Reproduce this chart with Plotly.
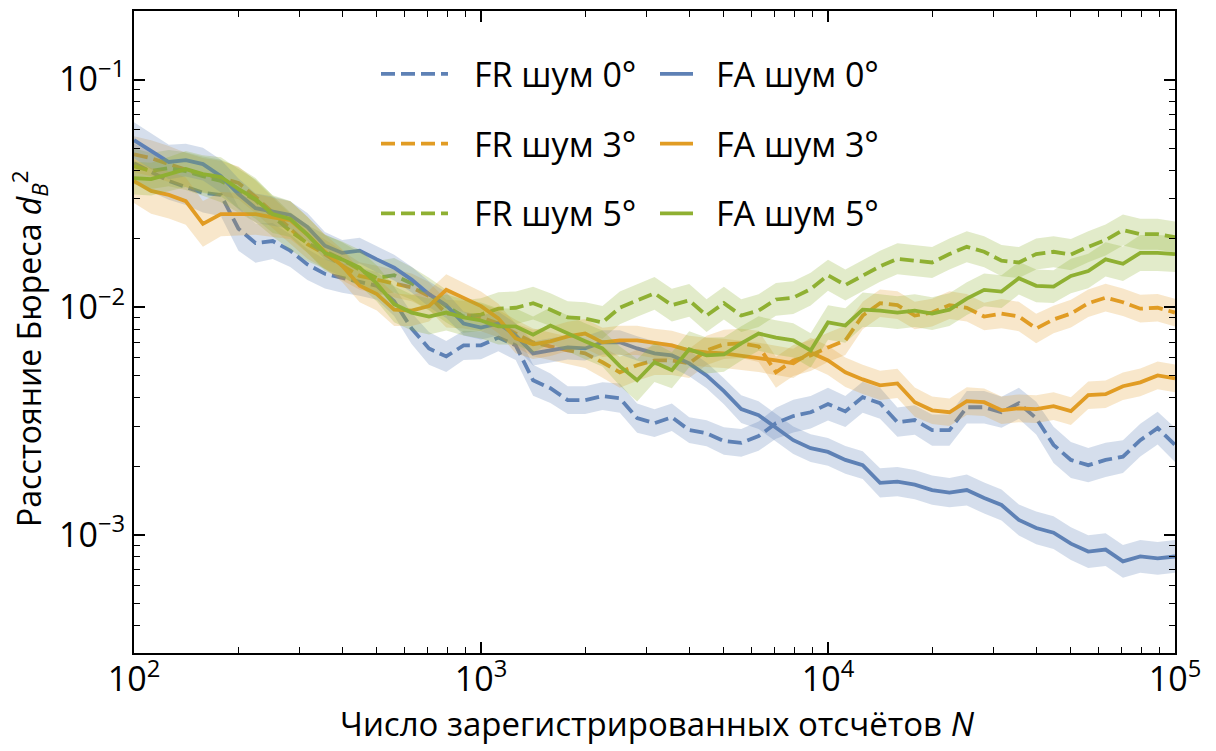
import plotly.graph_objects as go

# ---------------- data ----------------
N = [100, 112, 126, 141, 158, 178, 200, 224, 251, 282,
     316, 355, 398, 447, 501, 562, 631, 708, 794, 891,
     1000, 1122, 1259, 1413, 1585, 1778, 1995, 2239, 2512, 2818,
     3162, 3548, 3981, 4467, 5012, 5623, 6310, 7079, 7943, 8913,
     10000, 11220, 12589, 14125, 15849, 17783, 19953, 22387, 25119, 28184,
     31623, 35481, 39811, 44668, 50119, 56234, 63096, 70795, 79433, 89125,
     100000]

fr0 = [0.0429, 0.0392, 0.0358, 0.0337, 0.0318, 0.0311, 0.0221, 0.0191, 0.0195, 0.0177,
       0.0154, 0.0140, 0.0134, 0.0129, 0.0124, 0.0106, 0.00805, 0.00658, 0.00607, 0.00679,
       0.00679, 0.00735, 0.00679, 0.00477, 0.00440, 0.00390, 0.00390, 0.00406, 0.00398, 0.00325,
       0.00309, 0.00328, 0.00288, 0.00279, 0.00258, 0.00253, 0.00271, 0.00309, 0.00332, 0.00345,
       0.00375, 0.00348, 0.00402, 0.00378, 0.00312, 0.00319, 0.00288, 0.00288, 0.00363, 0.00363,
       0.00345, 0.00378, 0.00325, 0.00248, 0.00213, 0.00202, 0.00213, 0.00220, 0.00260, 0.00294,
       0.00248]

fa0 = [0.0541, 0.0484, 0.0434, 0.0442, 0.0425, 0.0376, 0.0314, 0.0272, 0.0264, 0.0254,
       0.0225, 0.0186, 0.0173, 0.0177, 0.0162, 0.0149, 0.0132, 0.0114, 0.0102, 0.00847,
       0.00813, 0.00847, 0.00750, 0.00626, 0.00645, 0.00665, 0.00658, 0.00700, 0.00700, 0.00658,
       0.00626, 0.00613, 0.00566, 0.00501, 0.00427, 0.00356, 0.00335, 0.00294, 0.00260, 0.00240,
       0.00231, 0.00213, 0.00202, 0.00169, 0.00171, 0.00166, 0.00157, 0.00153, 0.00157, 0.00145,
       0.00135, 0.00116, 0.00107, 0.00102, 0.000913, 0.000843, 0.000860, 0.000763, 0.000802, 0.000786,
       0.000802]

fr3 = [0.0469, 0.0451, 0.0425, 0.0400, 0.0380, 0.0369, 0.0351, 0.0305, 0.0259, 0.0221,
       0.0189, 0.0171, 0.0152, 0.0137, 0.0132, 0.0127, 0.0122, 0.0112, 0.00936, 0.00927,
       0.00900, 0.00847, 0.00765, 0.00700, 0.00672, 0.00645, 0.00626, 0.00572, 0.00517, 0.00555,
       0.00583, 0.00583, 0.00566, 0.00645, 0.00686, 0.00693, 0.00672, 0.00517, 0.00583, 0.00613,
       0.00665, 0.00714, 0.00918, 0.0104, 0.0102, 0.00918, 0.00946, 0.0102, 0.00993, 0.00909,
       0.00936, 0.00909, 0.00805, 0.00882, 0.00936, 0.0104, 0.0110, 0.0105, 0.00984, 0.00993,
       0.00946]

fa3 = [0.0358, 0.0324, 0.0311, 0.0292, 0.0232, 0.0256, 0.0256, 0.0256, 0.0248, 0.0241,
       0.0208, 0.0175, 0.0152, 0.0124, 0.0114, 0.00974, 0.00965, 0.0101, 0.0119, 0.0110,
       0.0101, 0.00891, 0.00728, 0.00686, 0.00707, 0.00743, 0.00765, 0.00700, 0.00714, 0.00714,
       0.00693, 0.00679, 0.00645, 0.00632, 0.00626, 0.00613, 0.00601, 0.00583, 0.00566, 0.00632,
       0.00583, 0.00517, 0.00481, 0.00453, 0.00462, 0.00382, 0.00352, 0.00345, 0.00386, 0.00382,
       0.00352, 0.00359, 0.00356, 0.00367, 0.00349, 0.00410, 0.00414, 0.00449, 0.00467, 0.00501,
       0.00486]

fr5 = [0.0416, 0.0396, 0.0408, 0.0396, 0.0376, 0.0358, 0.0327, 0.0295, 0.0251, 0.0216,
       0.0191, 0.0175, 0.0162, 0.0146, 0.0134, 0.0138, 0.0127, 0.0114, 0.0101, 0.00909,
       0.00927, 0.00984, 0.00993, 0.0104, 0.00974, 0.00900, 0.00891, 0.00856, 0.00993, 0.0107,
       0.0115, 0.0102, 0.0107, 0.00918, 0.0104, 0.00918, 0.00965, 0.0108, 0.0110, 0.0120,
       0.0138, 0.0125, 0.0137, 0.0151, 0.0163, 0.0160, 0.0157, 0.0171, 0.0184, 0.0175,
       0.0160, 0.0157, 0.0171, 0.0175, 0.0170, 0.0184, 0.0197, 0.0218, 0.0209, 0.0209,
       0.0203]

fa5 = [0.0369, 0.0365, 0.0384, 0.0404, 0.0384, 0.0373, 0.0331, 0.0298, 0.0256, 0.0244,
       0.0208, 0.0173, 0.0162, 0.0149, 0.0127, 0.0103, 0.00946, 0.00909, 0.00946, 0.00900,
       0.00873, 0.00822, 0.00822, 0.00757, 0.00830, 0.00765, 0.00707, 0.00658, 0.00550, 0.00477,
       0.00572, 0.00528, 0.00652, 0.00613, 0.00619, 0.00693, 0.00765, 0.00735, 0.00714, 0.00645,
       0.00856, 0.00830, 0.00974, 0.00965, 0.00946, 0.00965, 0.00936, 0.00974, 0.0109, 0.0119,
       0.0117, 0.0134, 0.0124, 0.0123, 0.0137, 0.0144, 0.0162, 0.0155, 0.0173, 0.0173,
       0.0171]

# multiplicative half-widths of the shaded confidence bands
sp_fr0 = [1.22, 1.22, 1.21, 1.20, 1.22, 1.24, 1.25, 1.22, 1.20, 1.18,
          1.17, 1.16, 1.16, 1.15, 1.15, 1.16, 1.17, 1.18, 1.17, 1.16,
          1.15, 1.15, 1.16, 1.17, 1.16, 1.15, 1.15, 1.15, 1.16, 1.16,
          1.15, 1.15, 1.14, 1.14, 1.15, 1.15, 1.16, 1.17, 1.18, 1.18,
          1.18, 1.17, 1.17, 1.17, 1.16, 1.16, 1.17, 1.17, 1.18, 1.18,
          1.17, 1.17, 1.18, 1.20, 1.20, 1.19, 1.19, 1.18, 1.18, 1.18,
          1.19]
sp_fa0 = [1.20, 1.20, 1.19, 1.18, 1.18, 1.18, 1.17, 1.16, 1.16, 1.15,
          1.15, 1.15, 1.14, 1.14, 1.14, 1.14, 1.14, 1.14, 1.14, 1.13,
          1.13, 1.13, 1.13, 1.13, 1.13, 1.13, 1.13, 1.13, 1.13, 1.13,
          1.13, 1.13, 1.14, 1.14, 1.14, 1.15, 1.15, 1.15, 1.15, 1.15,
          1.15, 1.15, 1.15, 1.16, 1.16, 1.16, 1.16, 1.16, 1.17, 1.17,
          1.17, 1.17, 1.18, 1.18, 1.18, 1.18, 1.18, 1.18, 1.18, 1.18,
          1.18]
sp_fr3 = [1.20, 1.20, 1.20, 1.19, 1.19, 1.19, 1.18, 1.18, 1.17, 1.17,
          1.16, 1.16, 1.16, 1.15, 1.15, 1.15, 1.15, 1.15, 1.15, 1.15,
          1.15, 1.15, 1.15, 1.15, 1.15, 1.15, 1.16, 1.17, 1.17, 1.17,
          1.16, 1.16, 1.16, 1.16, 1.16, 1.16, 1.17, 1.17, 1.17, 1.17,
          1.16, 1.16, 1.15, 1.15, 1.15, 1.15, 1.15, 1.15, 1.15, 1.15,
          1.16, 1.16, 1.16, 1.15, 1.15, 1.15, 1.15, 1.15, 1.15, 1.15,
          1.15]
sp_fa3 = [1.25, 1.26, 1.27, 1.27, 1.26, 1.25, 1.24, 1.23, 1.22, 1.21,
          1.20, 1.19, 1.18, 1.18, 1.18, 1.18, 1.17, 1.17, 1.17, 1.16,
          1.16, 1.16, 1.16, 1.16, 1.16, 1.16, 1.16, 1.16, 1.16, 1.16,
          1.16, 1.16, 1.16, 1.16, 1.16, 1.16, 1.16, 1.16, 1.16, 1.16,
          1.16, 1.16, 1.16, 1.16, 1.16, 1.16, 1.15, 1.15, 1.15, 1.15,
          1.15, 1.15, 1.15, 1.15, 1.15, 1.15, 1.15, 1.15, 1.15, 1.15,
          1.15]
sp_fr5 = [1.20, 1.20, 1.20, 1.21, 1.22, 1.24, 1.26, 1.25, 1.23, 1.21,
          1.20, 1.19, 1.19, 1.19, 1.19, 1.19, 1.18, 1.18, 1.18, 1.18,
          1.18, 1.18, 1.18, 1.18, 1.18, 1.18, 1.18, 1.18, 1.18, 1.18,
          1.18, 1.18, 1.18, 1.18, 1.18, 1.18, 1.18, 1.18, 1.18, 1.18,
          1.17, 1.17, 1.17, 1.17, 1.17, 1.17, 1.17, 1.17, 1.17, 1.17,
          1.17, 1.17, 1.17, 1.17, 1.17, 1.17, 1.17, 1.17, 1.17, 1.17,
          1.17]
sp_fa5 = [1.18, 1.18, 1.19, 1.20, 1.21, 1.22, 1.22, 1.22, 1.21, 1.20,
          1.20, 1.20, 1.20, 1.20, 1.20, 1.20, 1.20, 1.20, 1.20, 1.20,
          1.20, 1.20, 1.20, 1.20, 1.20, 1.20, 1.20, 1.20, 1.22, 1.24,
          1.22, 1.20, 1.20, 1.20, 1.19, 1.19, 1.19, 1.19, 1.19, 1.19,
          1.19, 1.19, 1.19, 1.18, 1.18, 1.18, 1.18, 1.18, 1.18, 1.18,
          1.18, 1.18, 1.18, 1.18, 1.19, 1.19, 1.19, 1.19, 1.20, 1.20,
          1.20]

labels = ["FR шум 0°", "FA шум 0°", "FR шум 3°", "FA шум 3°", "FR шум 5°", "FA шум 5°"]
x_ticks = [100, 1000, 10000, 100000]
x_ticktext = ["10<sup>2</sup>", "10<sup>3</sup>", "10<sup>4</sup>", "10<sup>5</sup>"]
x_minor = [m * 10 ** e for e in (2, 3, 4) for m in range(2, 10)]
y_ticks = [0.001, 0.01, 0.1]
y_ticktext = ["10<sup>−3</sup>", "10<sup>−2</sup>", "10<sup>−1</sup>"]
y_minor = [m * 10.0 ** e for e in (-4, -3, -2, -1) for m in range(2, 10)]

# ---------------- style ----------------
BLUE, ORANGE, GREEN = "#5E81B5", "#E19C24", "#8FB032"
BAND = {BLUE: "rgba(94,129,181,0.26)", ORANGE: "rgba(225,156,36,0.24)",
        GREEN: "rgba(143,176,50,0.26)"}
DASH = "14px,6px"
LW = 3.8
FONT = "Open Sans"

series = [
    (labels[0], fr0, sp_fr0, BLUE, DASH),
    (labels[2], fr3, sp_fr3, ORANGE, DASH),
    (labels[4], fr5, sp_fr5, GREEN, DASH),
    (labels[1], fa0, sp_fa0, BLUE, "solid"),
    (labels[3], fa3, sp_fa3, ORANGE, "solid"),
    (labels[5], fa5, sp_fa5, GREEN, "solid"),
]

fig = go.Figure()
for name, d, sp, col, dash in series:
    assert len(d) == len(N) and len(sp) == len(N)
    upper = [v * s for v, s in zip(d, sp)]
    lower = [v / s for v, s in zip(d, sp)]
    fig.add_trace(go.Scatter(x=N, y=upper, mode="lines", line=dict(width=0),
                             showlegend=False, hoverinfo="skip"))
    fig.add_trace(go.Scatter(x=N, y=lower, mode="lines", line=dict(width=0),
                             fill="tonexty", fillcolor=BAND[col],
                             showlegend=False, hoverinfo="skip"))
    fig.add_trace(go.Scatter(x=N, y=d, mode="lines", name=name,
                             line=dict(color=col, width=LW, dash=dash),
                             showlegend=False))

axis_common = dict(
    type="log", showline=True, linecolor="black", linewidth=2, mirror="ticks",
    ticks="inside", ticklen=11, tickwidth=1.5, tickcolor="black",
    showgrid=False, zeroline=False,
    tickfont=dict(family=FONT, size=34, color="black"),
)

fig.update_xaxes(**axis_common, range=[2, 5], tickmode="array",
                 tickvals=x_ticks, ticktext=x_ticktext, ticklabelstandoff=-5,
                 minor=dict(ticks="inside", ticklen=6, tickwidth=1.3, tickcolor="black",
                            showgrid=False, tickmode="array", tickvals=x_minor))
fig.update_yaxes(**axis_common, range=[-3.52, -0.699], tickmode="array",
                 tickvals=y_ticks, ticktext=y_ticktext,
                 minor=dict(ticks="inside", ticklen=6, tickwidth=1.3, tickcolor="black",
                            showgrid=False, tickmode="array", tickvals=y_minor))

# manual two-column legend
L, R, T, B = 134, 1175, 9, 653
def px(x):
    return (x - L) / (R - L)
def py(y):
    return (B - y) / (B - T)

shapes, annots = [], []
leg_rows = [72, 142, 212]
leg_cols = [(381, 448, 472, DASH), (660, 693, 714, "solid")]
leg_items = [[(labels[0], BLUE), (labels[1], BLUE)],
             [(labels[2], ORANGE), (labels[3], ORANGE)],
             [(labels[4], GREEN), (labels[5], GREEN)]]
for r, yrow in enumerate(leg_rows):
    for c, (x0, x1, xt, dash) in enumerate(leg_cols):
        txt, col = leg_items[r][c]
        shapes.append(dict(type="line", xref="paper", yref="paper",
                           x0=px(x0), x1=px(x1), y0=py(yrow), y1=py(yrow),
                           line=dict(color=col, width=LW, dash=dash)))
        annots.append(dict(xref="paper", yref="paper", x=px(xt), y=py(yrow),
                           xanchor="left", yanchor="middle", showarrow=False,
                           text=txt, font=dict(family=FONT, size=34, color="black")))

annots.append(dict(xref="paper", yref="paper", x=px(657), y=py(724),
                   xanchor="center", yanchor="middle", showarrow=False,
                   text="Число зарегистрированных отсчётов <i>N</i>",
                   font=dict(family=FONT, size=33, color="black")))
annots.append(dict(xref="paper", yref="paper", x=px(30), y=py(348),
                   xanchor="center", yanchor="middle", showarrow=False, textangle=-90,
                   text="Расстояние Бюреса <i>d</i><sub><i>B</i></sub><sup>2</sup>",
                   font=dict(family=FONT, size=32, color="black")))

fig.update_layout(
    width=1216, height=751,
    margin=dict(l=L, r=1216 - R, t=T, b=751 - B),
    plot_bgcolor="white", paper_bgcolor="white",
    showlegend=False, shapes=shapes, annotations=annots,
)

fig.write_html("out.html")
